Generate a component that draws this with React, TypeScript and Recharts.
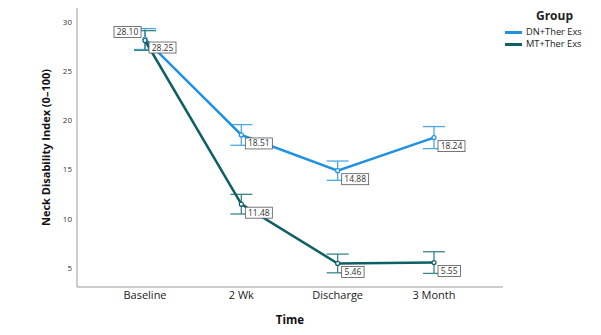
import { LineChart, Line, XAxis, YAxis, ErrorBar, LabelList } from 'recharts';

const FONT = '"Open Sans", "DejaVu Sans", sans-serif';

const timepoints = ['Baseline', '2 Wk', 'Discharge', '3 Month'];
const dnMeans = [28.25, 18.51, 14.88, 18.24];
const dnErr = [1.06, 1.05, 0.98, 1.12];
const mtMeans = [28.1, 11.48, 5.46, 5.55];
const mtErr = [1.0, 1.0, 0.95, 1.1];

const groups = [
  { key: 'dn', name: 'DN+Ther Exs', color: '#1f91e2', errColor: '#4aaae8' },
  { key: 'mt', name: 'MT+Ther Exs', color: '#0e6062', errColor: '#3c8587' },
];

const data = timepoints.map((t, i) => ({
  time: t,
  dn: dnMeans[i],
  dnErr: dnErr[i],
  mt: mtMeans[i],
  mtErr: mtErr[i],
}));

// boxed value label, sits below-right of the point (first MT one goes above-left)
const valueLabel = (flipFirst: boolean) => (props: any) => {
  const { x, y, value, index } = props;
  const text = Number(value).toFixed(2);
  const w = text.length * 4.6 + 4;
  const h = 11;
  const flip = flipFirst && index === 0;
  const bx = flip ? x - 4 - w : x + 4;
  const by = flip ? y - 3 - h : y + 3;
  return (
    <g>
      <rect x={bx} y={by} width={w} height={h} fill="#fff" stroke="#555" strokeWidth={0.8} />
      <text x={bx + w / 2} y={by + h / 2 + 3} textAnchor="middle" fontSize={8.5} fill="#333" fontFamily={FONT}>
        {text}
      </text>
    </g>
  );
};

function GroupLegend() {
  return (
    <div style={{ position: 'absolute', left: 505, top: 8, width: 95, fontFamily: FONT, color: '#222' }}>
      <div style={{ fontWeight: 700, fontSize: 12, textAlign: 'center', marginLeft: 4, lineHeight: '16px', height: 16 }}>
        Group
      </div>
      <div style={{ marginTop: 2 }}>
        {groups.map((g) => (
          <div key={g.key} style={{ display: 'flex', alignItems: 'center', height: 12, lineHeight: '12px', fontSize: 9.3 }}>
            <div style={{ width: 17, height: 3, background: g.color, marginRight: 4 }} />
            <span style={{ lineHeight: '10px' }}>{g.name}</span>
          </div>
        ))}
      </div>
    </div>
  );
}

export default function App() {
  return (
    <div style={{ position: 'fixed', left: 0, top: 0, width: 601, height: 335, background: '#fff' }}>
      <LineChart width={601} height={335} data={data} margin={{ top: 8, right: 98, bottom: 0, left: 0 }}>
        <XAxis
          dataKey="time"
          height={48}
          padding={{ left: 68, right: 69 }}
          tickLine={false}
          tickSize={4}
          tickMargin={0}
          axisLine={{ stroke: '#999', strokeWidth: 1 }}
          tick={{ fontSize: 11, fill: '#222', fontFamily: FONT }}
          label={{ value: 'Time', position: 'insideBottom', offset: 11, fontSize: 11.5, fontWeight: 700, fill: '#111', fontFamily: FONT }}
        />
        <YAxis
          width={77}
          domain={[3.07, 31.4]}
          ticks={[5, 10, 15, 20, 25, 30]}
          tickLine={false}
          tickSize={3}
          tickMargin={2}
          axisLine={{ stroke: '#999', strokeWidth: 1 }}
          tick={{ fontSize: 8, fill: '#333', fontFamily: FONT }}
          label={{
            value: 'Neck Disability Index (0\u2013100)',
            angle: -90,
            position: 'insideLeft',
            offset: 46,
            style: { textAnchor: 'middle' },
            fontSize: 11,
            fontWeight: 700,
            fill: '#111',
            fontFamily: FONT,
          }}
        />
        {groups.map((g) => (
          <Line
            key={g.key}
            dataKey={g.key}
            name={g.name}
            stroke={g.color}
            strokeWidth={2.5}
            dot={{ r: 2, fill: '#fff', stroke: g.color, strokeWidth: 1.2 }}
            activeDot={false}
            isAnimationActive={false}
          >
            <ErrorBar dataKey={`${g.key}Err`} width={11} stroke={g.errColor} strokeWidth={1.3} direction="y" />
            <LabelList dataKey={g.key} content={valueLabel(g.key === 'mt')} />
          </Line>
        ))}
      </LineChart>
      <GroupLegend />
    </div>
  );
}
